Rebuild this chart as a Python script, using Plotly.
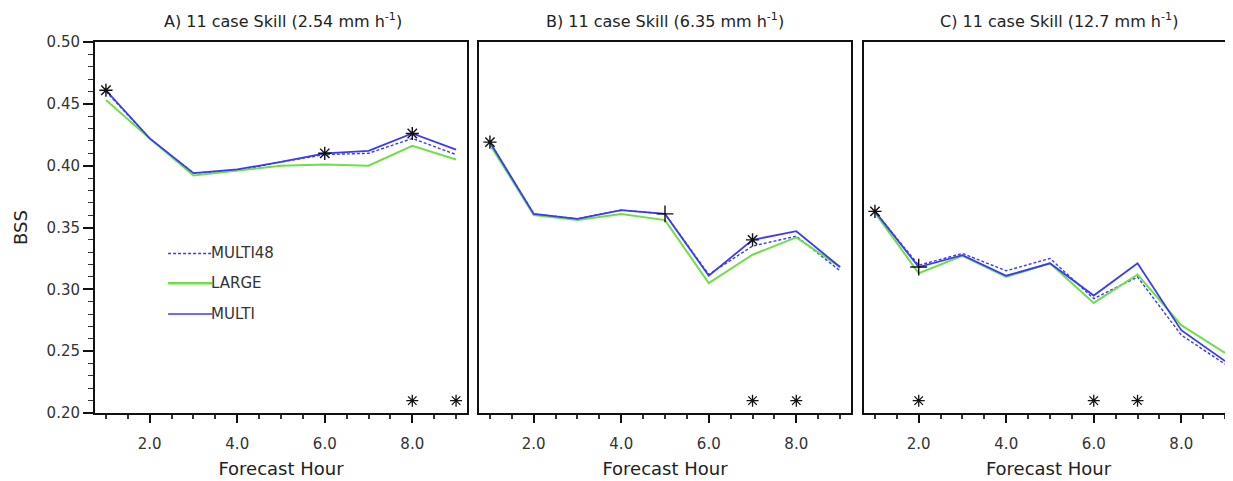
import plotly.graph_objects as go

hours = [1, 2, 3, 4, 5, 6, 7, 8, 9]

# Panel A (2.54 mm/h)
a_multi48 = [0.460, 0.422, 0.394, 0.396, 0.403, 0.409, 0.410, 0.422, 0.409]
a_large   = [0.453, 0.422, 0.392, 0.396, 0.400, 0.401, 0.400, 0.416, 0.405]
a_multi   = [0.461, 0.422, 0.394, 0.397, 0.403, 0.410, 0.412, 0.426, 0.413]
# Panel B (6.35 mm/h)
b_multi48 = [0.419, 0.361, 0.357, 0.364, 0.361, 0.312, 0.335, 0.343, 0.315]
b_large   = [0.417, 0.360, 0.356, 0.361, 0.356, 0.305, 0.328, 0.342, 0.318]
b_multi   = [0.419, 0.361, 0.357, 0.364, 0.361, 0.311, 0.340, 0.347, 0.318]
# Panel C (12.7 mm/h)
c_multi48 = [0.363, 0.3195, 0.329, 0.315, 0.325, 0.2925, 0.310, 0.263, 0.2395]
c_large   = [0.362, 0.313, 0.327, 0.310, 0.321, 0.289, 0.312, 0.271, 0.2485]
c_multi   = [0.363, 0.318, 0.3276, 0.311, 0.321, 0.295, 0.321, 0.267, 0.242]

# marker hours (on MULTI line)
a_star = [1, 6, 8]; a_plus = []
b_star = [1, 7];    b_plus = [5]
c_star = [1];       c_plus = [2]
# significance stars at the bottom
a_sig = [8, 9]
b_sig = [7, 8]
c_sig = [2, 6, 7]
sig_level = 0.21

titles = ["A) 11 case Skill (2.54 mm h<sup>-1</sup>)",
          "B) 11 case Skill (6.35 mm h<sup>-1</sup>)",
          "C) 11 case Skill (12.7 mm h<sup>-1</sup>)"]

BLUE = "#3b3bf5"
GREEN = "#6ee045"
FONT = "DejaVu Sans"

OFF = 8  # page body margin
W, H = 1233 - OFF, 481 - OFF
panels_px = [(95 - OFF, 467 - OFF), (479 - OFF, 851 - OFF), (864 - OFF, W)]
title_cx = [283 - OFF, 665 - OFF, 1059 - OFF]
y_bot, y_top = 413 - OFF, 42 - OFF
ydom = [(H - y_bot) / H, (H - y_top) / H]

fig = go.Figure()
data = [(a_multi48, a_large, a_multi, a_star, a_plus, a_sig),
        (b_multi48, b_large, b_multi, b_star, b_plus, b_sig),
        (c_multi48, c_large, c_multi, c_star, c_plus, c_sig)]

for i, (m48, lg, mu, st, pl, sg) in enumerate(data):
    xa = "x" if i == 0 else f"x{i+1}"
    ya = "y" if i == 0 else f"y{i+1}"
    fig.add_trace(go.Scatter(x=hours, y=m48, mode="lines", xaxis=xa, yaxis=ya,
                             line=dict(color=BLUE, width=1.4, dash="3px,2px"), showlegend=False))
    fig.add_trace(go.Scatter(x=hours, y=lg, mode="lines", xaxis=xa, yaxis=ya,
                             line=dict(color=GREEN, width=2), showlegend=False))
    fig.add_trace(go.Scatter(x=hours, y=mu, mode="lines", xaxis=xa, yaxis=ya,
                             line=dict(color=BLUE, width=1.8), showlegend=False))
    if st:
        fig.add_trace(go.Scatter(x=st, y=[mu[h - 1] for h in st], mode="markers", xaxis=xa, yaxis=ya,
                                 marker=dict(symbol="asterisk-open", size=11, color="#111",
                                             line=dict(width=1.4, color="#111")), showlegend=False))
    if pl:
        fig.add_trace(go.Scatter(x=pl, y=[mu[h - 1] for h in pl], mode="markers", xaxis=xa, yaxis=ya,
                                 marker=dict(symbol="cross-thin-open", size=12, color="#111",
                                             line=dict(width=1.4, color="#111")), showlegend=False))
    fig.add_trace(go.Scatter(x=sg, y=[sig_level] * len(sg), mode="markers", xaxis=xa, yaxis=ya,
                             marker=dict(symbol="asterisk-open", size=10, color="#111",
                                         line=dict(width=1.3, color="#111")), showlegend=False))

px_per_unit = (467 - 95) / 8.5
layout = dict(width=W, height=H, margin=dict(l=0, r=0, t=0, b=0, autoexpand=False),
              plot_bgcolor="white", paper_bgcolor="white",
              font=dict(family=FONT, color="#222"))
for i, (l, r) in enumerate(panels_px):
    xk = "xaxis" if i == 0 else f"xaxis{i+1}"
    yk = "yaxis" if i == 0 else f"yaxis{i+1}"
    xa = "x" if i == 0 else f"x{i+1}"
    ya = "y" if i == 0 else f"y{i+1}"
    xmax = 0.75 + (r - l) / px_per_unit
    layout[xk] = dict(domain=[l / W, r / W], range=[0.75, xmax], anchor=ya, automargin=False,
                      tickmode="linear", tick0=0, dtick=2, tickformat=".1f",
                      ticks="outside", ticklen=8, tickwidth=2, tickcolor="#111",
                      minor=dict(dtick=0.5, tick0=0, ticks="outside", ticklen=4, tickwidth=1.5, tickcolor="#333"),
                      showline=True, linecolor="#111", linewidth=2, mirror=True,
                      showgrid=False, zeroline=False, ticklabelstandoff=8,
                      tickfont=dict(size=15, family=FONT, color="#333"),
                      title=dict(text="Forecast Hour", font=dict(size=18, family=FONT, color="#222"), standoff=10))
    ydict = dict(domain=ydom, range=[0.2, 0.5], anchor=xa, automargin=False,
                 showline=True, linecolor="#111", linewidth=2, mirror=(i < 2),
                 showgrid=False, zeroline=False)
    if i == 0:
        ydict.update(tickmode="linear", tick0=0, dtick=0.05, tickformat=".2f",
                     ticks="outside", ticklen=10, tickwidth=1.5, tickcolor="#111",
                     minor=dict(dtick=0.01, tick0=0, ticks="outside", ticklen=5, tickwidth=1, tickcolor="#333"),
                     tickfont=dict(size=15, family=FONT, color="#333"),
                     title=dict(text="BSS", font=dict(size=18, family=FONT, color="#222"), standoff=14))
    else:
        ydict.update(showticklabels=False, ticks="")
    layout[yk] = ydict

fig.update_layout(**layout)

for i in range(3):
    fig.add_annotation(text=titles[i], x=title_cx[i] / W, y=(H - (21 - OFF)) / H, xref="paper", yref="paper",
                       showarrow=False, xanchor="center", yanchor="middle",
                       font=dict(size=16, family=FONT, color="#222"))

# legend (manual, inside panel A)
leg_names = ["MULTI48", "LARGE", "MULTI"]
leg_styles = [dict(color=BLUE, width=1.4, dash="3px,2px"), dict(color=GREEN, width=2.5), dict(color=BLUE, width=1.6)]
leg_y = [0.329, 0.305, 0.280]
for name, st, yy in zip(leg_names, leg_styles, leg_y):
    fig.add_shape(type="line", xref="x", yref="y", x0=2.42, x1=3.43, y0=yy, y1=yy, line=st)
    fig.add_annotation(text=name, x=3.43, y=yy, xref="x", yref="y", showarrow=False,
                       xanchor="left", yanchor="middle", xshift=-3,
                       font=dict(size=15, family=FONT, color="#333"))

fig.write_html("out.html")
